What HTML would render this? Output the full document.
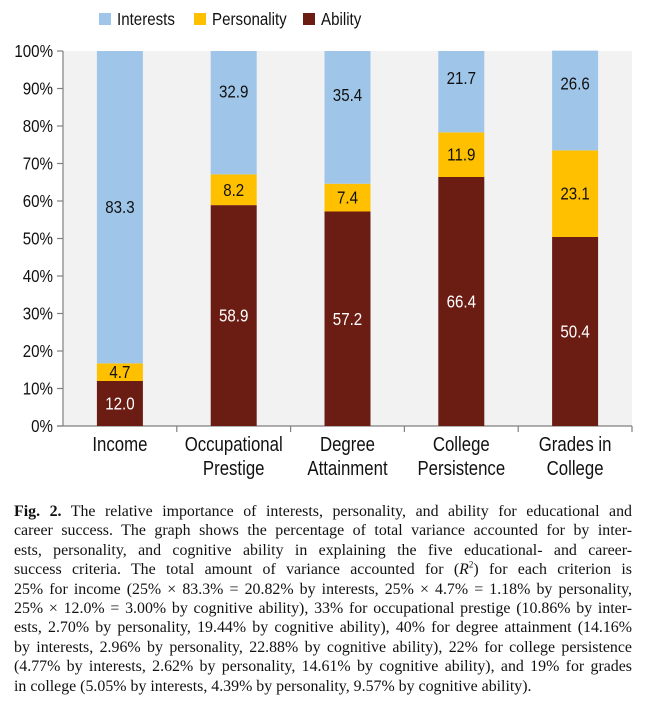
<!DOCTYPE html>
<html><head><meta charset="utf-8">
<style>
body{margin:0;width:646px;height:701px;background:#fff;overflow:hidden;}
svg{position:absolute;left:0;top:0;}
.n{font-family:"Liberation Sans Narrow","Liberation Sans",sans-serif;}
#cap{position:absolute;left:14px;top:502px;width:618px;font-family:"Liberation Serif",serif;font-size:15.9px;line-height:19.4px;color:#111;}
#cap div{text-align:justify;text-align-last:justify;white-space:nowrap;}
#cap div.last{text-align-last:left;}
</style></head><body>
<svg id="chart" width="646" height="495"></svg>
<div id="cap">
<div><b>Fig. 2.</b> The relative importance of interests, personality, and ability for educational and</div>
<div>career success. The graph shows the percentage of total variance accounted for by inter-</div>
<div>ests, personality, and cognitive ability in explaining the five educational- and career-</div>
<div>success criteria. The total amount of variance accounted for (<i>R</i><sup style="font-size:9px;line-height:0">2</sup>) for each criterion is</div>
<div>25% for income (25% × 83.3% = 20.82% by interests, 25% × 4.7% = 1.18% by personality,</div>
<div>25% × 12.0% = 3.00% by cognitive ability), 33% for occupational prestige (10.86% by inter-</div>
<div>ests, 2.70% by personality, 19.44% by cognitive ability), 40% for degree attainment (14.16%</div>
<div>by interests, 2.96% by personality, 22.88% by cognitive ability), 22% for college persistence</div>
<div>(4.77% by interests, 2.62% by personality, 14.61% by cognitive ability), and 19% for grades</div>
<div class="last">in college (5.05% by interests, 4.39% by personality, 9.57% by cognitive ability).</div>
</div>
<script>
const categories=[["Income"],["Occupational","Prestige"],["Degree","Attainment"],["College","Persistence"],["Grades in","College"]];
const ability=[12.0,58.9,57.2,66.4,50.4];
const personality=[4.7,8.2,7.4,11.9,23.1];
const interests=[83.3,32.9,35.4,21.7,26.6];
const yTicks=[0,10,20,30,40,50,60,70,80,90,100];
const seriesNames=["Interests","Personality","Ability"];
const colors={Interests:"#9fc6e8",Personality:"#ffc000",Ability:"#6b1d14"};
const NS="http://www.w3.org/2000/svg";
const svg=document.getElementById('chart');
const L=63,R=632,T=51,B=426;
const step=(R-L)/categories.length, bw=46;
const SX=0.84;
const y=v=>B-(B-T)*v/100;
const xc=i=>L+step*(i+0.5);
function mk(tag,a,p){const e=document.createElementNS(NS,tag);for(const k in a)e.setAttribute(k,a[k]);(p||svg).appendChild(e);return e;}
function txt(x,yy,anchor,size,fill,p){return mk('text',{x:0,y:0,transform:`translate(${x},${yy}) scale(${SX},1)`,'text-anchor':anchor,'font-size':size,fill:fill,class:'n'},p);}
const bg=mk('rect',{x:L,y:T,width:R-L,height:B-T,fill:'#f2f2f2'});


const ax=mk('g',{stroke:'#808080','stroke-width':1.2});


mk('line',{x1:L,y1:T,x2:L,y2:B},ax);
mk('line',{x1:L-6,y1:B,x2:R,y2:B},ax);
yTicks.forEach(t=>{
  mk('line',{x1:L-6,y1:y(t),x2:L,y2:y(t)},ax);
  const tx=txt(L-10,y(t)+6,'end',18,'#111');
  tx.textContent=t+'%';
  
  
});
for(let i=1;i<=categories.length;i++) mk('line',{x1:L+step*i,y1:B,x2:L+step*i,y2:B+6},ax);
categories.forEach((c,i)=>{
  const stack=[[ability[i],'Ability','#fff'],[personality[i],'Personality','#111'],[interests[i],'Interests','#111']];
  let base=0;
  stack.forEach(([v,n,tc])=>{
    const r=mk('rect',{x:xc(i)-bw/2,y:y(base+v),width:bw,height:y(base)-y(base+v),fill:colors[n]});
    
    
    const ty=(n==='Interests'&&i>0)?y(base+v)+ (y(base)-y(base+v))*0.33 : (y(base)+y(base+v))/2;
    const t=txt(xc(i),ty+6,'middle',18,tc);
    t.textContent=v.toFixed(1);
    
    
    base+=v;
  });
  c.forEach((line,j)=>{
    const t=txt(xc(i),451+j*24,'middle',20,'#111');
    t.textContent=line;
    
    
  });
});
const legX=[99,194,303];
seriesNames.forEach((n,i)=>{
  const g=mk('g',{});
  
  
  mk('rect',{x:legX[i],y:13,width:12,height:12,fill:colors[n]},g);
  const t=txt(legX[i]+18,25,'start',18,'#111',g);
  t.textContent=n;
});
</script>
</body></html>
